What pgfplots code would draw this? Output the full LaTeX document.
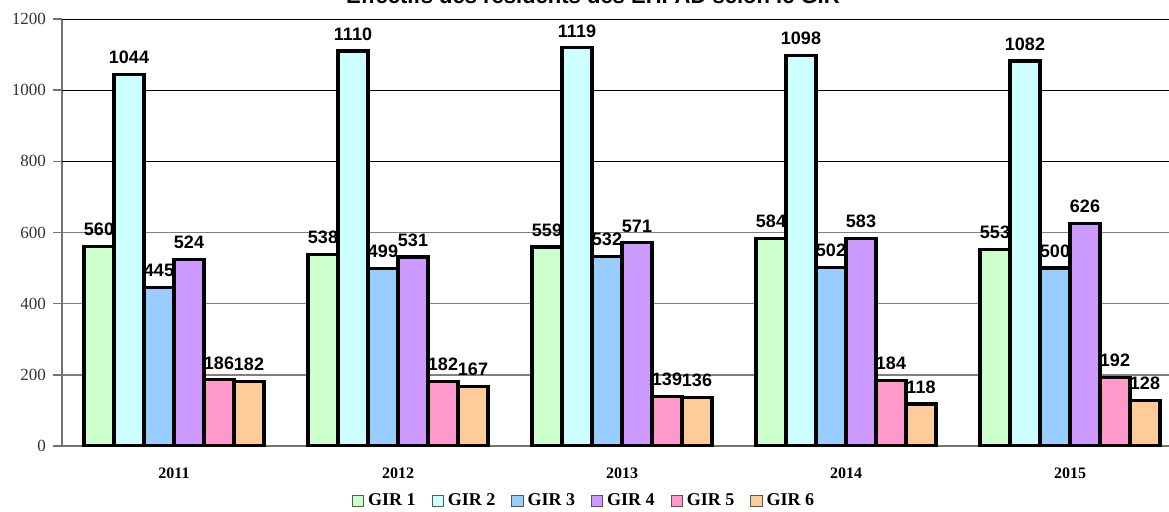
\documentclass[border=0pt]{standalone}
\usepackage{fontspec}
\setmainfont{Liberation Serif}
\newfontfamily\arial{Liberation Sans}
\usepackage{pgfplots}
\pgfplotsset{compat=1.18}
\definecolor{girA}{HTML}{CCFFCC}
\definecolor{girB}{HTML}{CCFFFF}
\definecolor{girC}{HTML}{99CCFF}
\definecolor{girD}{HTML}{CC99FF}
\definecolor{girE}{HTML}{FF99CC}
\definecolor{girF}{HTML}{FFCC99}
\begin{document}
\begin{tikzpicture}
\useasboundingbox (0,0) rectangle (584.5pt,255.5pt);
\begin{axis}[
  at={(31pt,32.5pt)}, anchor=south west,
  scale only axis, width=560pt, height=213.5pt,
  xmin=-0.5, xmax=4.5, ymin=0, ymax=1200,
  ybar=0pt, bar width=15pt,
  axis lines*=left,
  axis line style={draw=black!55, line width=0.9pt},
  xtick={0,1,2,3,4},
  xticklabels={2011,2012,2013,2014,2015},
  x tick label style={font=\fontsize{8}{9}\selectfont\bfseries, anchor=base, yshift=-11.5pt},
  major x tick style={draw=none},
  extra x ticks={-0.5,0.5,1.5,2.5,3.5,4.5},
  extra x tick labels={},
  extra x tick style={tick align=outside, major tick length=4.5pt, tick style={draw=black!55, line width=0.8pt}, grid=none},
  ytick={0,200,400,600},
  extra y ticks={800,1000,1200},
  extra y tick style={grid style={draw=black, line width=0.5pt}},
  ymajorgrids,
  grid style={draw=black!50, line width=0.7pt},
  tick align=outside, major tick length=4.5pt,
  y tick style={draw=black!55, line width=0.8pt},
  yticklabel style={font=\fontsize{8.5}{9}\selectfont, text=black!80, anchor=east, xshift=0pt},
  /pgf/number format/assume math mode=true,
  /pgf/number format/1000 sep={},
  nodes near coords,
  every node near coord/.append style={font=\arial\fontsize{9}{10}\selectfont\bfseries, text=black, inner sep=1pt, anchor=south, yshift=3.5pt},
  legend columns=-1,
  legend style={at={(0.467,-0.129)}, anchor=center, draw=none, fill=none,
    font=\fontsize{9}{10}\selectfont\bfseries,
    /tikz/every even column/.append style={column sep=6pt}},
  legend image code/.code={\draw[#1, line width=0.5pt, draw=black!65] (0pt,-2.8pt) rectangle (5.6pt,2.8pt);},
]
\addplot[fill=girA, draw=black, line width=1.6pt] coordinates {(0,560) (1,538) (2,559) (3,584) (4,553)};
\addplot[fill=girB, draw=black, line width=1.6pt] coordinates {(0,1044) (1,1110) (2,1119) (3,1098) (4,1082)};
\addplot[fill=girC, draw=black, line width=1.6pt] coordinates {(0,445) (1,499) (2,532) (3,502) (4,500)};
\addplot[fill=girD, draw=black, line width=1.6pt] coordinates {(0,524) (1,531) (2,571) (3,583) (4,626)};
\addplot[fill=girE, draw=black, line width=1.6pt] coordinates {(0,186) (1,182) (2,139) (3,184) (4,192)};
\addplot[fill=girF, draw=black, line width=1.6pt] coordinates {(0,182) (1,167) (2,136) (3,118) (4,128)};
\legend{GIR 1,GIR 2,GIR 3,GIR 4,GIR 5,GIR 6}
\end{axis}
\node[font=\arial\fontsize{11}{12}\selectfont\bfseries, anchor=base] at (296.5pt,254pt) {Effectifs des résidents des EHPAD selon le GIR};
\end{tikzpicture}
\end{document}
